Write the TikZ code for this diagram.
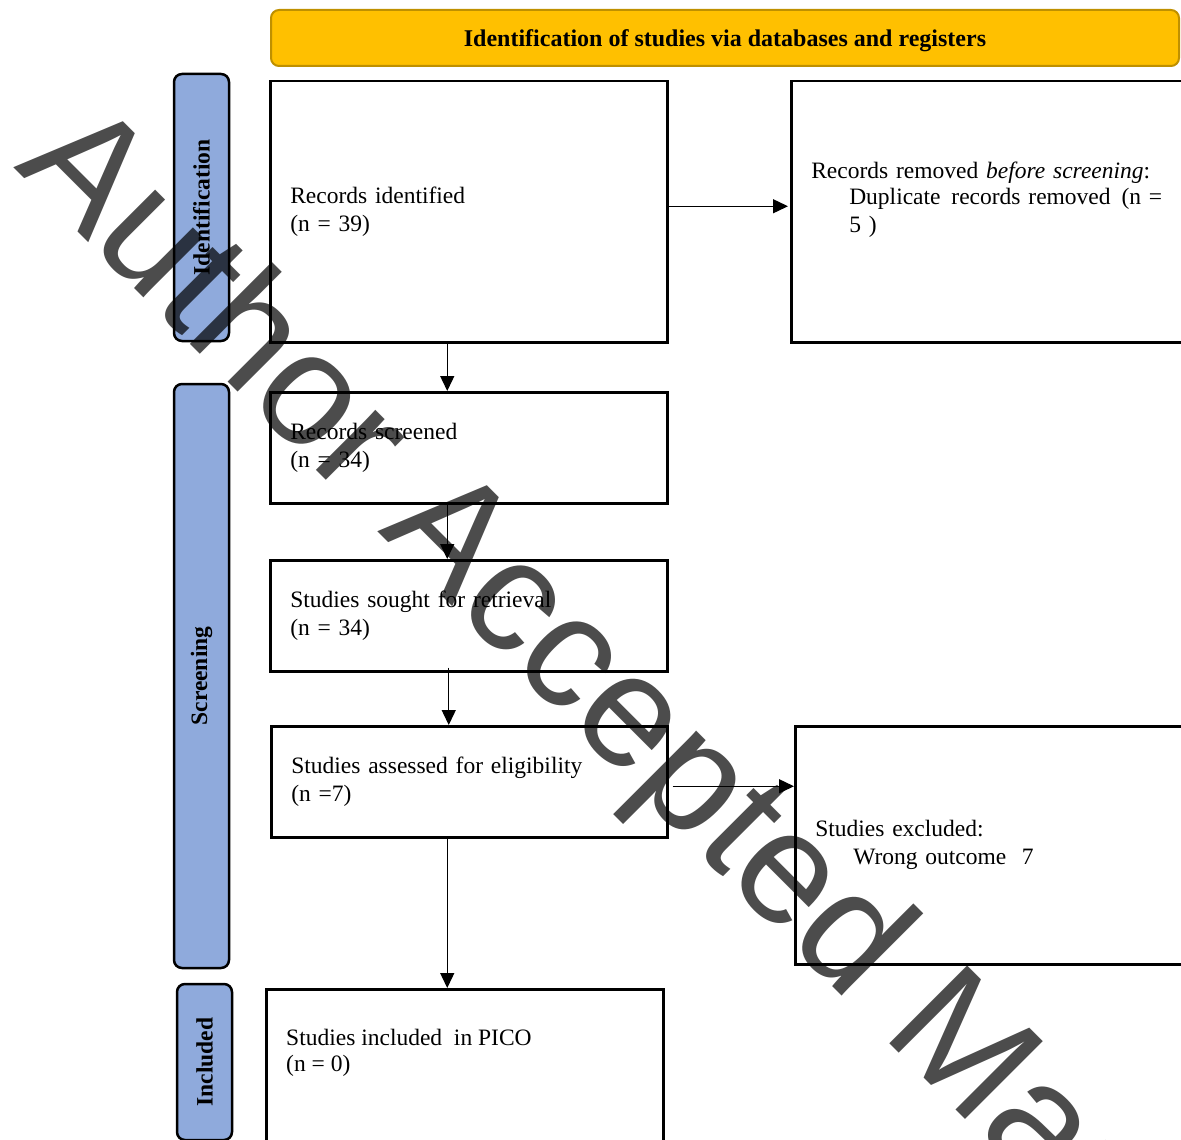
\documentclass[tikz,border=0pt]{standalone}
\usepackage{fontspec}
\setmainfont{Liberation Serif}
\newfontfamily\wmfont{Liberation Sans}
\usetikzlibrary{arrows.meta}
\definecolor{bannerfill}{HTML}{FFC000}
\definecolor{bannerdraw}{HTML}{BF9000}
\definecolor{phasefill}{HTML}{8FAADC}
\begin{document}
\begin{tikzpicture}[x=1pt,y=-1pt,
  box/.style={draw=black, line width=2.5pt, anchor=north west, align=left,
    inner xsep=20pt, inner ysep=0pt, font=\fontsize{23.5}{28}\selectfont},
  phase/.style={draw=black, line width=2.5pt, fill=phasefill, rounded corners=8pt,
    rotate=90, font=\bfseries\fontsize{23.5}{28}\selectfont, inner sep=0pt, minimum height=55pt},
  banner/.style={draw=bannerdraw, line width=2pt, fill=bannerfill, rounded corners=8pt,
    font=\bfseries\fontsize{24}{28}\selectfont, inner sep=0pt, text depth=0pt},
  arr/.style={line width=1.4pt, -{Triangle[length=15pt,width=14pt]}},
  wm/.style={font=\wmfont\fontsize{160}{160}\selectfont, text=black, text opacity=0.7,
    rotate=-45, anchor=base west, inner sep=0pt},
]
\useasboundingbox (0,0) rectangle (1181,1140);
\clip (0,0) rectangle (1181,1140);

% banner
\node[banner, minimum width=908pt, minimum height=56pt] (ban) at (725,38)
  {Identification of studies via databases and registers};

% phase labels
\node[phase, minimum width=267pt] (idph) at (201.5,207.5) {Identification};
\node[phase, minimum width=584pt] (scph) at (201.5,676) {Screening};
\node[phase, minimum width=156pt] (incph) at (204.5,1062) {Included};

% boxes
\node[box, text width=357pt, minimum height=261pt] (b1) at (269,80)
  {Records identified\\(n = 39)};
\node[box, text width=380pt, minimum height=261pt] (rem) at (790,80)
  {Records removed \textit{before screening}:\\[-2pt]
   \hspace*{38pt}Duplicate\hspace{3pt} records removed\hspace{3pt} (n =\\
   \hspace*{38pt}5 )\\[2pt]\mbox{}};
\node[box, text width=357pt, minimum height=111pt] (b2) at (269,391)
  {Records screened\\(n = 34)};
\node[box, text width=357pt, minimum height=111pt] (b3) at (269,559)
  {Studies sought for retrieval\\(n = 34)};
\node[box, text width=356pt, minimum height=111pt] (b4) at (270,725)
  {Studies assessed for eligibility\\(n =7)};
\node[box, text width=380pt, minimum height=238pt] (excl) at (794,725)
  {Studies excluded:\\\hspace*{38pt}Wrong outcome\ \ 7};
\node[box, text width=357pt, minimum height=200pt] (b5) at (265,988) {};
\node[anchor=west, align=left, inner sep=0pt, font=\fontsize{23.5}{26}\selectfont] (b5t)
  at (286,1053) {Studies included\ \ in PICO\\(n = 0)};

% connectors
\draw[arr, shorten >=2pt] ([yshift=5.5pt]b1.east) -- ([yshift=5.5pt]b1.east -| rem.west);
\draw[arr] ([xshift=-21.5pt]b1.south) -- ([xshift=-21.5pt]b1.south |- b2.north);
\draw[arr] ([xshift=-21.5pt]b2.south) -- ([xshift=-21.5pt]b2.south |- b3.north);
\draw[arr] ([xshift=-20pt,yshift=5pt]b3.south) -- ([xshift=-20pt]b3.south |- b4.north);
\draw[arr] ([xshift=-22pt]b4.south) -- ([xshift=-22pt]b4.south |- b5.north);
\draw[arr] ([xshift=4pt,yshift=-4.5pt]b4.east) -- ([yshift=-4.5pt]b4.east -| excl.west);

% watermark
\node[wm] (wmk) at (13,167) {Author Accepted Manuscript};
\end{tikzpicture}
\end{document}
